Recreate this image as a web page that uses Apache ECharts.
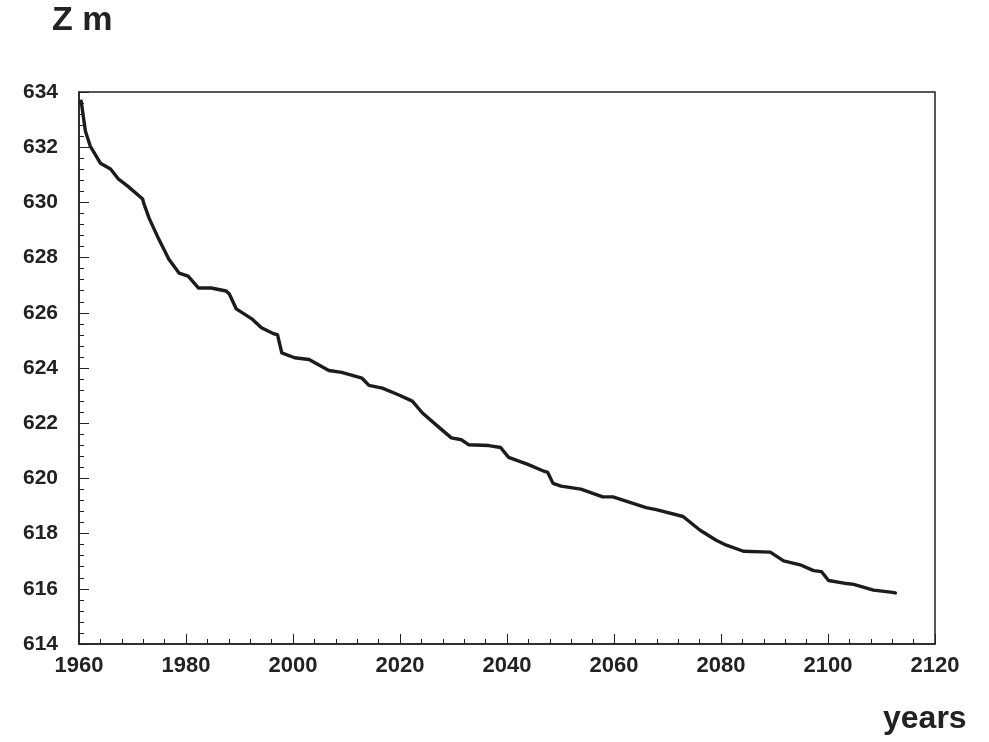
<!DOCTYPE html>
<html><head><meta charset="utf-8">
<script src="https://cdn.jsdelivr.net/npm/echarts@6/dist/echarts.min.js"></script>
<style>html,body{margin:0;padding:0;background:#fff}#c{width:989px;height:742px}</style>
</head><body><div id="c"></div>
<script>
const years = [1960.4,1961.2,1962.1,1964.0,1965.9,1967.4,1969.1,1971.9,1972.1,1973.1,1974.9,1976.8,1978.7,1980.4,1982.3,1984.7,1987.5,1988.1,1989.4,1992.3,1994.1,1996.4,1997.1,1997.9,2000.3,2003.0,2006.7,2009.1,2012.9,2014.2,2016.7,2019.8,2022.3,2024.2,2027.4,2029.6,2031.5,2032.8,2036.6,2038.8,2040.3,2043.9,2046.9,2047.6,2048.6,2050.1,2053.8,2057.9,2059.8,2066.0,2067.9,2072.9,2076.1,2079.1,2081.0,2084.2,2089.2,2091.7,2094.8,2097.3,2098.8,2100.1,2103.5,2104.8,2108.5,2111.7,2112.6];
const levels = [633.67,632.58,632.04,631.42,631.21,630.84,630.59,630.12,629.97,629.43,628.67,627.94,627.44,627.33,626.90,626.90,626.79,626.68,626.14,625.78,625.46,625.24,625.21,624.55,624.37,624.31,623.91,623.84,623.63,623.37,623.27,623.02,622.80,622.37,621.83,621.47,621.40,621.22,621.19,621.12,620.76,620.51,620.26,620.22,619.82,619.72,619.61,619.33,619.33,618.94,618.87,618.62,618.12,617.76,617.58,617.36,617.33,617.01,616.87,616.66,616.62,616.30,616.19,616.16,615.95,615.88,615.85];
const yAxisName = 'Z m';
const xAxisName = 'years';

const chart = echarts.init(document.getElementById('c'), null, {renderer: 'canvas'});
const ink = '#222';
const fam = '"Liberation Sans", Arial, sans-serif';
chart.setOption({
  backgroundColor: '#fff',
  animation: false,
  grid: {left: 79, right: 54, top: 92, bottom: 98, show: true, borderColor: ink, borderWidth: 1.5, backgroundColor: 'transparent'},
  graphic: [
    {type: 'text', x: 52, y: 21, style: {text: yAxisName, fill: ink, font: 'bold 34px ' + fam, verticalAlign: 'middle'}},
    {type: 'text', x: 883, y: 719, style: {text: xAxisName, fill: ink, font: 'bold 32px ' + fam, verticalAlign: 'middle'}}
  ],
  xAxis: {
    type: 'value', min: 1960, max: 2120, interval: 20,
    axisLine: {show: true, lineStyle: {color: ink, width: 1.5}},
    axisTick: {show: true, inside: true, length: 10, lineStyle: {color: ink, width: 1}},
    minorTick: {show: true, splitNumber: 5, length: 5, lineStyle: {color: ink, width: 1}},
    splitLine: {show: false},
    axisLabel: {margin: 11, color: ink, fontFamily: fam, fontWeight: 'bold', fontSize: 22, formatter: v => String(v)}
  },
  yAxis: {
    type: 'value', min: 614, max: 634, interval: 2,
    axisLine: {show: true, lineStyle: {color: ink, width: 1.5}},
    axisTick: {show: true, inside: true, length: 10, lineStyle: {color: ink, width: 1}},
    minorTick: {show: true, splitNumber: 5, length: 5, lineStyle: {color: ink, width: 1}},
    splitLine: {show: false},
    axisLabel: {margin: 21, color: ink, fontFamily: fam, fontWeight: 'bold', fontSize: 21, formatter: v => String(v)}
  },
  series: [{
    type: 'line',
    data: years.map((y, i) => [y, levels[i]]),
    showSymbol: false,
    lineStyle: {color: '#1c1c1c', width: 3.4, join: 'round', cap: 'round'}
  }]
});
</script></body></html>
